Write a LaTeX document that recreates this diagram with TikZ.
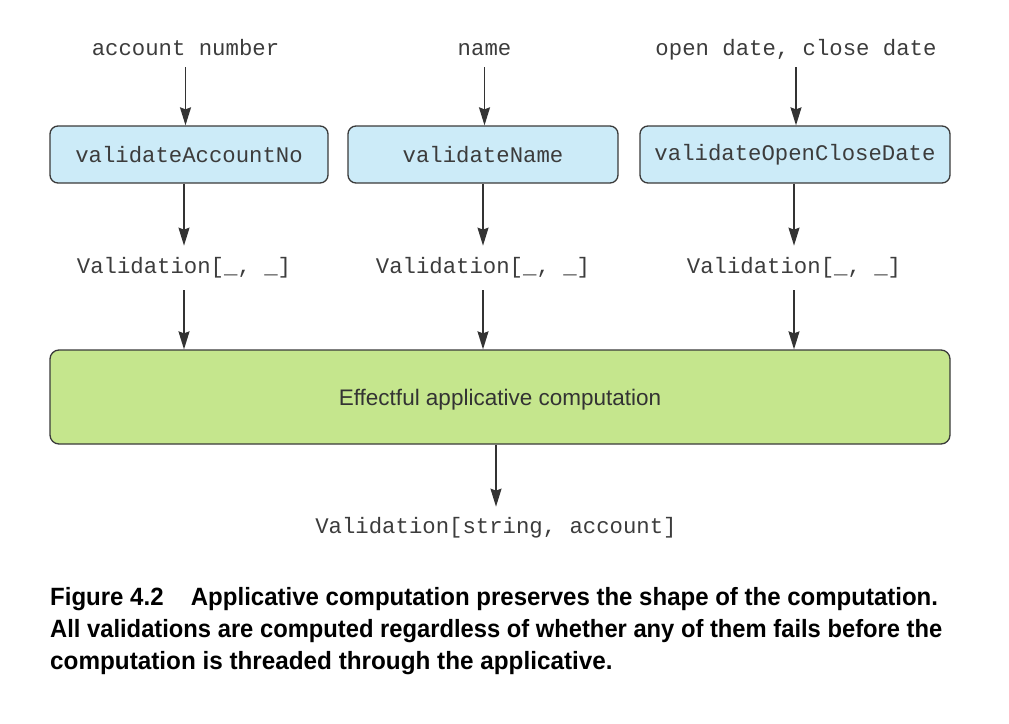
\documentclass[tikz,border=0pt]{standalone}
\usepackage{fontspec}
\setmainfont{Liberation Sans}
\setsansfont{Liberation Sans}
\setmonofont{Liberation Mono}
\newfontfamily\capfont[FakeStretch=0.95]{Liberation Sans Bold}
\usetikzlibrary{arrows.meta}
\definecolor{txt}{HTML}{333333}
\definecolor{monotxt}{HTML}{3C3C3C}
\definecolor{bluefill}{HTML}{CCEBF8}
\definecolor{greenfill}{HTML}{C5E68D}
\definecolor{edge}{HTML}{3A3A3A}
\tikzset{
  mono/.style={font=\fontsize{22.3}{26}\selectfont\ttfamily, text=monotxt, inner sep=0pt, anchor=base},
  fnbox/.style={draw=edge, line width=1.3pt, fill=bluefill, rounded corners=8pt, minimum height=57pt, inner sep=0pt,
                font=\fontsize{22.3}{26}\selectfont\ttfamily, text=monotxt},
  bigbox/.style={draw=edge, line width=1.3pt, fill=greenfill, rounded corners=9pt, minimum height=94pt, minimum width=900pt, inner sep=0pt,
                font=\fontsize{22.5}{26}\selectfont\sffamily, text=txt, text height=22pt, text depth=4.7pt},
  arr/.style={draw=txt, line width=1.5pt, -{Stealth[length=18pt,width=11pt,inset=2pt]}},
  captext/.style={font=\fontsize{25}{32}\selectfont\capfont, text=black, anchor=base west, inner sep=0pt}
}
\begin{document}
\begin{tikzpicture}[x=1pt,y=-1pt]
\useasboundingbox (0,0) rectangle (1009,723);
% input labels
\node[mono] (in1) at (185.5,55) {account number};
\node[mono] (in2) at (484.5,55) {name};
\node[mono] (in3) at (796,55) {open date, close date};
% function boxes
\node[fnbox, minimum width=278pt] (b1) at (189,154.5) {validateAccountNo};
\node[fnbox, minimum width=270pt] (b2) at (483,154.5) {validateName};
\node[fnbox, minimum width=310pt] (b3) at (795,154.5) {validateOpenCloseDate};
% validation labels
\node[mono] (v1) at (184,273) {Validation[\_, \_]};
\node[mono] (v2) at (483,273) {Validation[\_, \_]};
\node[mono] (v3) at (794,273) {Validation[\_, \_]};
% big box
\node[bigbox] (g) at (500,397) {Effectful applicative computation};
% output
\node[mono] (out) at (496,533) {Validation[string, account]};
% arrows
\draw[arr] (in1.base) ++(0,12) -- (in1.base |- b1.north);
\draw[arr] (in2.base) ++(0,12) -- (in2.base |- b2.north);
\draw[arr] (in3.base) ++(0,12) -- (in3.base |- b3.north);
\draw[arr] (v1.base |- b1.south) -- ([yshift=11pt]v1.north);
\draw[arr] (v2.base |- b2.south) -- ([yshift=11pt]v2.north);
\draw[arr] (v3.base |- b3.south) -- ([yshift=11pt]v3.north);
\draw[arr] (v1.base) ++(0,17) -- (v1.base |- g.north);
\draw[arr] (v2.base) ++(0,17) -- (v2.base |- g.north);
\draw[arr] (v3.base) ++(0,17) -- (v3.base |- g.north);
\draw[arr] (out.base |- g.south) -- ([yshift=10pt]out.north);
% caption
\node[captext] (c1) at (50,605) {\scalebox{1.011}[1]{Figure 4.2\hspace{27pt}Applicative computation preserves the shape of the computation.}};
\node[captext] (c2) at (50,637) {All validations are computed regardless of whether any of them fails before the};
\node[captext] (c3) at (50,669) {\scalebox{1.022}[1]{computation is threaded through the applicative.}};
\end{tikzpicture}
\end{document}
